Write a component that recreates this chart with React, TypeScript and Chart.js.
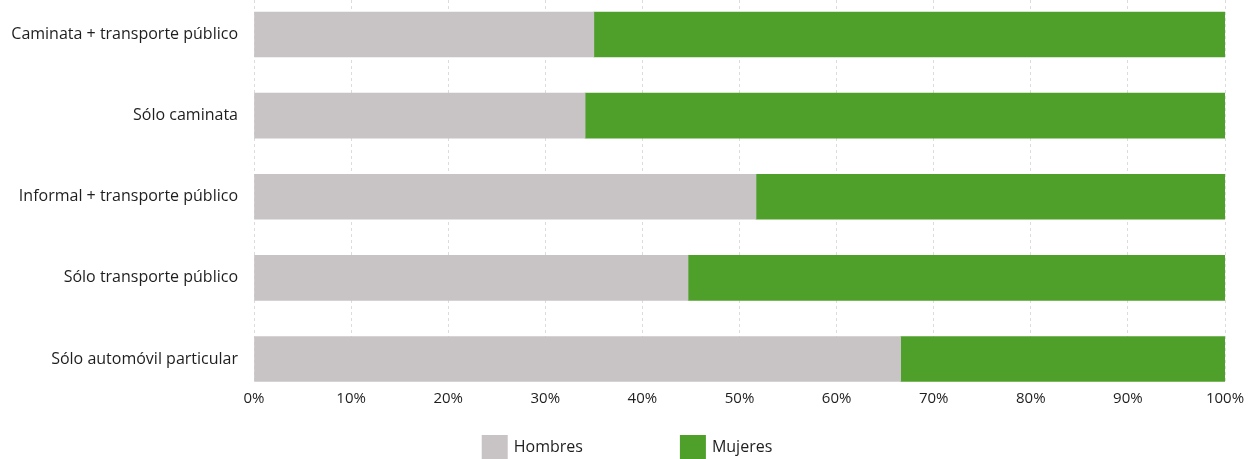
import React, { useEffect, useRef } from "react";
import { Chart, registerables } from "chart.js";

Chart.register(...registerables);

const categories = [
  "Caminata + transporte público",
  "Sólo caminata",
  "Informal + transporte público",
  "Sólo transporte público",
  "Sólo automóvil particular",
];
const hombres = [35.0, 34.1, 51.7, 44.7, 66.6];
const mujeres = [65.0, 65.9, 48.3, 55.3, 33.4];
const seriesNames = ["Hombres", "Mujeres"];
const seriesColors = ["#c8c4c5", "#4fa02a"];
const xTicks = [0, 10, 20, 30, 40, 50, 60, 70, 80, 90, 100];

const FONT = "'Open Sans', sans-serif";
const TEXT = "#1e1e1e";

const legendPlugin = {
  id: "bottomLegend",
  afterDraw(chart: any) {
    const ctx = chart.ctx;
    const boxW = 26;
    const boxH = 24;
    const gapText = 6;
    const gapItems = 97;
    ctx.save();
    ctx.font = `16px ${FONT}`;
    const widths = seriesNames.map((n) => boxW + gapText + ctx.measureText(n).width);
    const total = widths.reduce((a, b) => a + b, 0) + gapItems * (widths.length - 1);
    let x = (chart.width - total) / 2;
    const y = chart.height - boxH;
    seriesNames.forEach((n, i) => {
      ctx.fillStyle = seriesColors[i];
      ctx.fillRect(x, y, boxW, boxH);
      ctx.fillStyle = TEXT;
      ctx.textBaseline = "middle";
      ctx.textAlign = "left";
      ctx.fillText(n, x + boxW + gapText, y + boxH / 2);
      x += widths[i] + gapItems;
    });
    ctx.restore();
  },
};

export default function App() {
  const ref = useRef<HTMLCanvasElement>(null);
  useEffect(() => {
    document.body.style.margin = "0";
    const chart = new Chart(ref.current!, {
      type: "bar",
      data: {
        datasets: [
          {
            label: seriesNames[0],
            data: hombres.map((v, i) => ({ x: v, y: i })),
            backgroundColor: seriesColors[0],
            barThickness: 45,
          },
          {
            label: seriesNames[1],
            data: mujeres.map((v, i) => ({ x: v, y: i })),
            backgroundColor: seriesColors[1],
            barThickness: 45,
          },
        ],
      },
      options: {
        indexAxis: "y",
        animation: false,
        responsive: false,
        layout: { padding: { left: 0, right: 29, top: 0, bottom: 0 } },
        plugins: { legend: { display: false }, tooltip: { enabled: false } },
        scales: {
          x: {
            type: "linear",
            stacked: true,
            min: 0,
            max: 100,
            z: 1,
            afterBuildTicks: (s: any) => {
              s.ticks = xTicks.map((v) => ({ value: v }));
            },
            afterFit: (s: any) => {
              s.height = 77;
              s.paddingLeft = 0;
              s.paddingRight = 0;
            },
            ticks: {
              callback: (v: any) => v + "%",
              font: { family: FONT, size: 15 },
              color: TEXT,
              padding: 8,
              maxRotation: 0,
            },
            grid: { color: "#dcdcdc", lineWidth: 1, drawTicks: false },
            border: { display: false, dash: [3, 3] },
          },
          y: {
            type: "linear",
            stacked: true,
            reverse: true,
            offset: false,
            bounds: "data",
            min: -0.4253,
            max: 4.2835,
            afterBuildTicks: (s: any) => {
              s.ticks = categories.map((_, i) => ({ value: i }));
            },
            afterFit: (s: any) => {
              s.width = 254;
              s.paddingTop = 0;
              s.paddingBottom = 0;
            },
            ticks: {
              callback: (v: any) => categories[v],
              font: { family: FONT, size: 16 },
              color: TEXT,
              padding: 16,
            },
            grid: { display: false, drawTicks: false, offset: false },
            border: { display: false },
          },
        },
      },
      plugins: [legendPlugin],
    });
    return () => chart.destroy();
  }, []);
  return <canvas ref={ref} width={1254} height={459} />;
}
